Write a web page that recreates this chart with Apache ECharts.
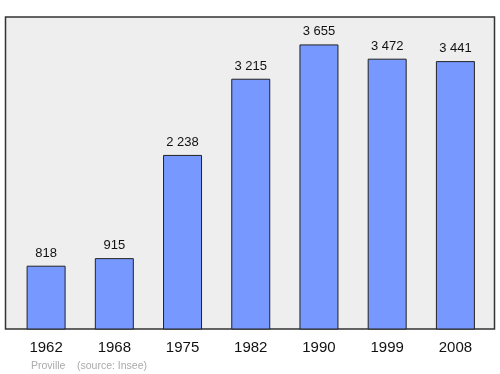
<!DOCTYPE html>
<html>
<head>
<meta charset="utf-8">
<script src="https://cdn.jsdelivr.net/npm/echarts@6/dist/echarts.min.js"></script>
<style>html,body{margin:0;padding:0;background:#fff}#c{width:500px;height:374px}</style>
</head>
<body>
<div id="c"></div>
<script>
const categories = ['1962', '1968', '1975', '1982', '1990', '1999', '2008'];
const population = [818, 915, 2238, 3215, 3655, 3472, 3441];
const commune = 'Proville';
const sourceText = '(source: Insee)';

function fmt(v) {
  return String(v).replace(/\B(?=(\d{3})+(?!\d))/g, ' ');
}

const FONT = 'Liberation Sans, Arial, sans-serif';
const chart = echarts.init(document.getElementById('c'), null, {renderer: 'canvas'});
chart.setOption({
  animation: false,
  backgroundColor: '#ffffff',
  textStyle: {fontFamily: FONT},
  graphic: [
    {type: 'rect', z: -10, shape: {x: 5.5, y: 17, width: 489, height: 312},
     style: {fill: '#eeeeee', stroke: '#333333', lineWidth: 1.5}},
    {type: 'text', left: 31, top: 360.5,
     style: {text: commune, fill: '#aaaaaa', fontSize: 10.5, fontFamily: FONT}},
    {type: 'text', left: 77, top: 360.5,
     style: {text: sourceText, fill: '#aaaaaa', fontSize: 10.5, fontFamily: FONT}}
  ],
  grid: {left: 12, right: 10.5, top: 17.5, bottom: 44.5, containLabel: false},
  xAxis: {
    type: 'category',
    data: categories,
    axisLine: {show: false},
    axisTick: {show: false},
    axisLabel: {color: '#111', fontSize: 15, margin: 11, fontFamily: FONT}
  },
  yAxis: {
    type: 'value',
    min: 0, max: 4000,
    show: false,
    splitLine: {show: false}
  },
  series: [{
    type: 'bar',
    data: population,
    barWidth: 39,
    itemStyle: {color: '#7799ff', borderColor: '#222', borderWidth: 1},
    label: {
      show: true, position: 'top', distance: 6,
      color: '#111', fontSize: 13, fontFamily: FONT,
      formatter: p => fmt(p.value)
    }
  }]
});
</script>
</body>
</html>
